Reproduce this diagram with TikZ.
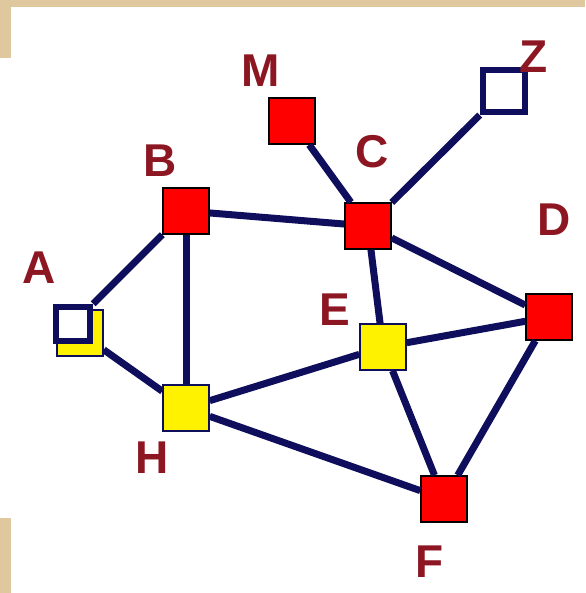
\documentclass[tikz,border=0pt]{standalone}
\usepackage{fontspec}
\setmainfont{Liberation Sans}
\usetikzlibrary{positioning}
\definecolor{navy}{RGB}{14,14,92}
\definecolor{lblred}{RGB}{140,22,34}
\definecolor{parch}{RGB}{224,200,158}

\begin{document}
\begin{tikzpicture}[x=1pt, y=1pt,
	redbox/.style={rectangle, draw=black, line width=1.5pt, fill=red, minimum size=46pt, inner sep=0pt},
	yelbox/.style={rectangle, draw=navy, line width=1.5pt, fill=yellow, minimum size=46pt, inner sep=0pt},
	hollow/.style={rectangle, draw=navy, line width=6.5pt, fill=white, minimum size=34pt, inner sep=0pt},
	lbl/.style={text=lblred, font=\fontsize{46}{46}\selectfont\bfseries, inner sep=0pt},
	link/.style={draw=navy, line width=7pt}]
	\useasboundingbox (0,0) rectangle (585,-593);
	% paper edges
	\fill[parch] (0,0) rectangle (585,-7);
	\fill[parch] (0,0) rectangle (11,-58);
	\fill[parch] (0,-518) rectangle (11,-593);
	% squares
	\draw (80.0pt, -333.0pt)node[yelbox](Ay){};
	\draw (73.0pt, -324.0pt)node[hollow](A){};
	\draw (186.0pt, -211.0pt)node[redbox](B){};
	\draw (368.0pt, -226.0pt)node[redbox](C){};
	\draw (549.0pt, -317.0pt)node[redbox](D){};
	\draw (383.0pt, -347.0pt)node[yelbox](E){};
	\draw (444.0pt, -499.0pt)node[redbox](F){};
	\draw (186.0pt, -408.0pt)node[yelbox](H){};
	\draw (292.0pt, -121.0pt)node[redbox](M){};
	\draw (504.0pt, -91.0pt)node[hollow, minimum size=42pt](Z){};
	% names
	\draw (39.0pt, -268.0pt)node[lbl](lA){A};
	\draw (160.0pt, -161.0pt)node[lbl](lB){B};
	\draw (372.0pt, -152.0pt)node[lbl](lC){C};
	\draw (554.0pt, -220.0pt)node[lbl](lD){D};
	\draw (335.0pt, -310.0pt)node[lbl](lE){E};
	\draw (430.0pt, -562.0pt)node[lbl](lF){F};
	\draw (152.0pt, -458.0pt)node[lbl](lH){H};
	\draw (261.0pt, -71.0pt)node[lbl](lM){M};
	\draw (534.0pt, -57.0pt)node[lbl](lZ){Z};
	% links
	\path[link] (M) edge (C);
	\path[link] (Z) edge (C);
	\path[link] (B) edge (C);
	\path[link] (A) edge (B);
	\path[link] (Ay) edge (H);
	\path[link] (B) edge (H);
	\path[link] (C) edge (D);
	\path[link] (C) edge (E);
	\path[link] (E) edge (D);
	\path[link] (E) edge (H);
	\path[link] (E) edge (F);
	\path[link] (H) edge (F);
	\path[link] (D) edge (F);
\end{tikzpicture}
\end{document}
